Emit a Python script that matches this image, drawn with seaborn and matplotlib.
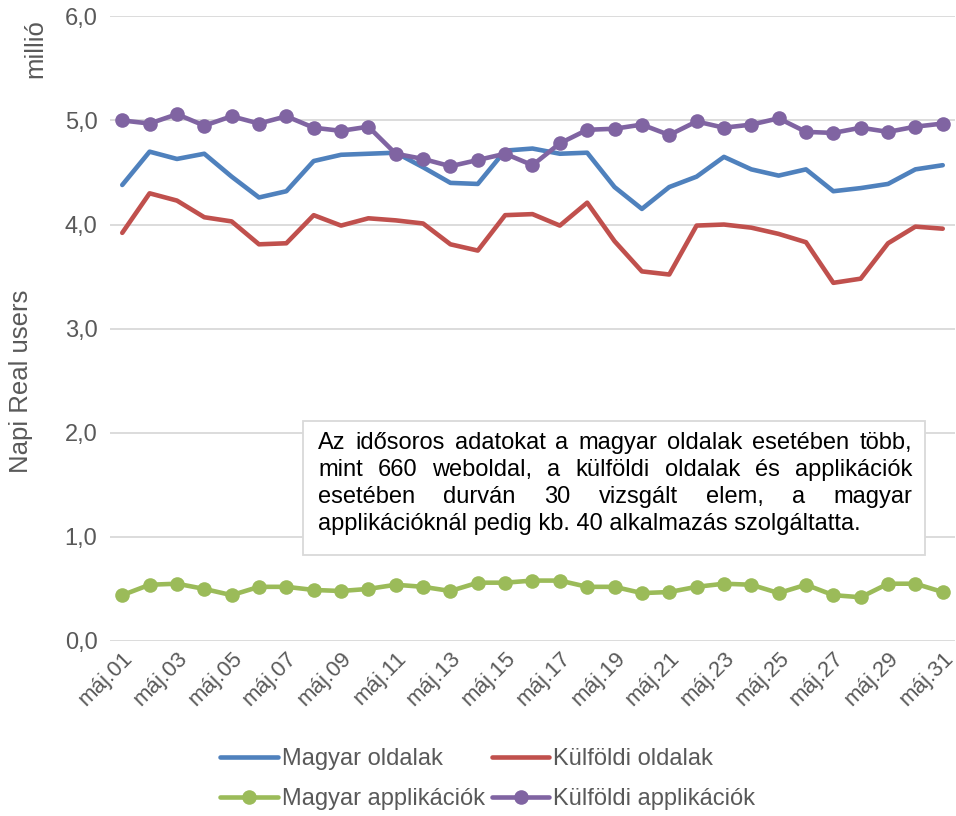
import pandas as pd
import seaborn as sns
import matplotlib.pyplot as plt
from matplotlib.lines import Line2D
from matplotlib.patches import Rectangle

days = [f"máj.{d:02d}" for d in range(1, 32)]

magyar_oldalak = [4.38, 4.70, 4.63, 4.68, 4.46, 4.26, 4.32, 4.61, 4.67, 4.68,
                  4.69, 4.55, 4.40, 4.39, 4.71, 4.73, 4.68, 4.69, 4.36, 4.15,
                  4.36, 4.46, 4.65, 4.53, 4.47, 4.53, 4.32, 4.35, 4.39, 4.53, 4.57]
kulfoldi_oldalak = [3.92, 4.30, 4.23, 4.07, 4.03, 3.81, 3.82, 4.09, 3.99, 4.06,
                    4.04, 4.01, 3.81, 3.75, 4.09, 4.10, 3.99, 4.21, 3.84, 3.55,
                    3.52, 3.99, 4.00, 3.97, 3.91, 3.83, 3.44, 3.48, 3.82, 3.98, 3.96]
magyar_app = [0.44, 0.54, 0.55, 0.50, 0.44, 0.52, 0.52, 0.49, 0.48, 0.50,
              0.54, 0.52, 0.48, 0.56, 0.56, 0.58, 0.58, 0.52, 0.52, 0.46,
              0.47, 0.52, 0.55, 0.54, 0.46, 0.54, 0.44, 0.42, 0.55, 0.55, 0.47]
kulfoldi_app = [5.00, 4.97, 5.06, 4.95, 5.04, 4.97, 5.04, 4.93, 4.90, 4.94,
                4.68, 4.63, 4.56, 4.62, 4.68, 4.57, 4.78, 4.91, 4.92, 4.96,
                4.86, 4.99, 4.93, 4.96, 5.02, 4.89, 4.88, 4.93, 4.89, 4.94, 4.97]

series = ["Magyar oldalak", "Külföldi oldalak", "Magyar applikációk", "Külföldi applikációk"]
colors = ["#4F81BD", "#C0504D", "#9BBB59", "#8064A2"]
markers = [None, None, "o", "o"]

note_lines = [
    "Az idősoros adatokat a magyar oldalak esetében több,",
    "mint 660 weboldal, a külföldi oldalak és applikációk",
    "esetében durván 30 vizsgált elem, a magyar",
    "applikációknál pedig kb. 40 alkalmazás szolgáltatta.",
]

df = pd.DataFrame({"nap": days, series[0]: magyar_oldalak, series[1]: kulfoldi_oldalak,
                   series[2]: magyar_app, series[3]: kulfoldi_app})
long_df = df.melt(id_vars="nap", var_name="sorozat", value_name="ertek")

sns.set_theme(style="white")
plt.rcParams["font.family"] = ["Liberation Sans", "DejaVu Sans"]
grey = "#595959"

fig = plt.figure(figsize=(9.56, 8.16), dpi=100)
ax = fig.add_axes([0.115, 0.2145, 0.884, 0.7655])

for name, color, marker in zip(series, colors, markers):
    sub = long_df[long_df["sorozat"] == name]
    sns.lineplot(data=sub, x="nap", y="ertek", ax=ax, color=color, linewidth=3.3,
                 marker=marker, markersize=10.5, markeredgewidth=0, sort=False)

ax.set_ylim(0, 6)
ax.set_xlim(-0.45, 30.45)
ax.set_yticks([0, 1, 2, 3, 4, 5, 6])
ax.set_yticklabels([f"{v},0" for v in range(7)])
ax.set_xticks(range(0, 31, 2))
ax.set_xticklabels(days[::2], rotation=45, ha="right", rotation_mode="anchor")
ax.tick_params(axis="y", labelsize=17, colors=grey, length=0, pad=9)
ax.tick_params(axis="x", labelsize=16, colors=grey, length=0, pad=5)
ax.grid(axis="y", color="#d9d9d9", linewidth=1.3)
ax.set_axisbelow(True)
for s in ax.spines.values():
    s.set_visible(False)
ax.set_xlabel("")
ax.set_ylabel("")

fig.text(0.022, 0.533, "Napi Real users", rotation=90, ha="center", va="center",
         fontsize=18.5, color=grey)
fig.text(0.037, 0.941, "millió", rotation=90, ha="center", va="center",
         fontsize=18.5, color=grey)

# note box with justified text
bx0, bx1, by0, by1 = 303 / 956, 925 / 956, 1 - 555 / 816, 1 - 421 / 816
fig.patches.append(Rectangle((bx0, by0), bx1 - bx0, by1 - by0, transform=fig.transFigure,
                             facecolor="white", edgecolor="#d9d9d9", linewidth=1.3, zorder=5))
renderer = fig.canvas.get_renderer()
tx0, tx1 = 318 / 956, 912 / 956
for i, line in enumerate(note_lines):
    y = 1 - (443 + 27 * i) / 816
    if i == len(note_lines) - 1:
        fig.text(tx0, y, line, fontsize=17, color="black", va="center", zorder=6)
        continue
    words = line.split()
    texts = [fig.text(0, y, w, fontsize=17, color="black", va="center", zorder=6) for w in words]
    widths = [t.get_window_extent(renderer).width / fig.bbox.width for t in texts]
    gap = (tx1 - tx0 - sum(widths)) / (len(words) - 1)
    x = tx0
    for t, w in zip(texts, widths):
        t.set_x(x)
        x += w + gap

handles = [Line2D([], [], color=c, linewidth=3.3, marker=m, markersize=10.5, markeredgewidth=0)
           for c, m in zip(colors, markers)]
order = [0, 2, 1, 3]
leg = fig.legend([handles[i] for i in order], [series[i] for i in order], ncol=2,
                 loc="center", bbox_to_anchor=(0.51, 0.045), frameon=False, fontsize=17,
                 handlelength=2.45, handletextpad=0.15, columnspacing=0.3, labelspacing=0.75)
for t in leg.get_texts():
    t.set_color(grey)

fig.savefig("out.png", dpi=100)
